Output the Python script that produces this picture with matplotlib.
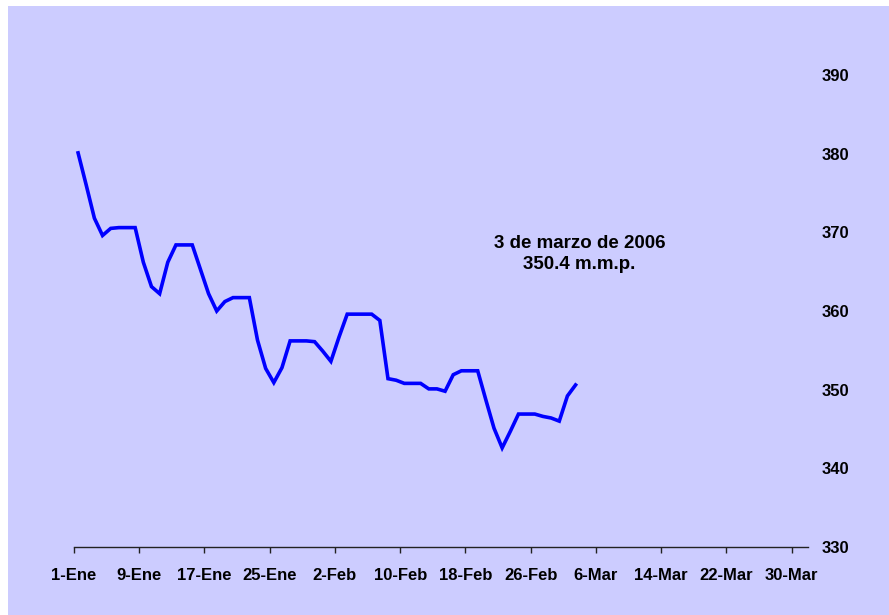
import matplotlib
matplotlib.use("Agg")
import matplotlib.pyplot as plt
from matplotlib.patches import Rectangle
import pandas as pd

# valores diarios, 1-Ene a 3-Mar 2006
fechas = pd.date_range("2006-01-01", "2006-03-03", freq="D")
valores = [380.1, 376.0, 371.8, 369.6, 370.5, 370.6, 370.6, 370.6,
           366.2, 363.1, 362.2, 366.2, 368.4, 368.4, 368.4, 365.3,
           362.2, 360.0, 361.2, 361.7, 361.7, 361.7, 356.3, 352.7,
           350.9, 352.8, 356.2, 356.2, 356.2, 356.1, 354.9, 353.6,
           356.7, 359.6, 359.6, 359.6, 359.6, 358.8, 351.4, 351.2,
           350.8, 350.8, 350.8, 350.1, 350.1, 349.8, 351.9, 352.4,
           352.4, 352.4, 348.7, 345.1, 342.6, 344.7, 346.9, 346.9,
           346.9, 346.6, 346.4, 346.0, 349.2, 350.6]
ticks_x = pd.date_range("2006-01-01", "2006-03-30", freq="8D")
etiquetas_x = ["1-Ene", "9-Ene", "17-Ene", "25-Ene", "2-Feb", "10-Feb",
               "18-Feb", "26-Feb", "6-Mar", "14-Mar", "22-Mar", "30-Mar"]
ticks_y = [330, 340, 350, 360, 370, 380, 390]

plt.rcParams['font.family'] = ['Liberation Sans', 'DejaVu Sans']
plt.rcParams['font.weight'] = 'bold'

fig = plt.figure(figsize=(8.89, 6.15), dpi=100)
fig.patch.set_facecolor('white')
fondo = Rectangle((8 / 889, 0), 1, 1 - 6 / 615, transform=fig.transFigure,
                  facecolor='#CCCCFF', edgecolor='none', zorder=-10)
fig.patches.append(fondo)

ax = fig.add_axes([74 / 889, 1 - 547 / 615, (808 - 74) / 889, (547 - 75) / 615])
ax.set_zorder(5)
ax.patch.set_alpha(0)

# los puntos caen a mitad de cada dia
ax.plot(fechas + pd.Timedelta(hours=12), valores, color='#0000FF', lw=2.6,
        solid_joinstyle='miter')

ax.set_xlim(pd.Timestamp("2006-01-01"), pd.Timestamp("2006-04-01"))
ax.set_ylim(330, 390)
ax.set_xticks(ticks_x)
ax.set_xticklabels(etiquetas_x)
ax.set_yticks(ticks_y)
ax.yaxis.tick_right()

for s in ['top', 'left', 'right']:
    ax.spines[s].set_visible(False)
ax.spines['bottom'].set_color('#222222')
ax.spines['bottom'].set_linewidth(1)

ax.tick_params(axis='x', direction='out', length=4, width=1, color='#222222',
               labelsize=12, pad=11)
ax.tick_params(axis='y', length=0, labelsize=12, pad=10)
for lab in ax.get_xticklabels() + ax.get_yticklabels():
    lab.set_fontweight('bold')

ax.text(pd.Timestamp("2006-03-04"), 367.2, "3 de marzo de 2006\n350.4 m.m.p.",
        ha='center', va='center', fontsize=13.5, fontweight='bold',
        linespacing=1.3)

fig.savefig("out.png", dpi=100)
